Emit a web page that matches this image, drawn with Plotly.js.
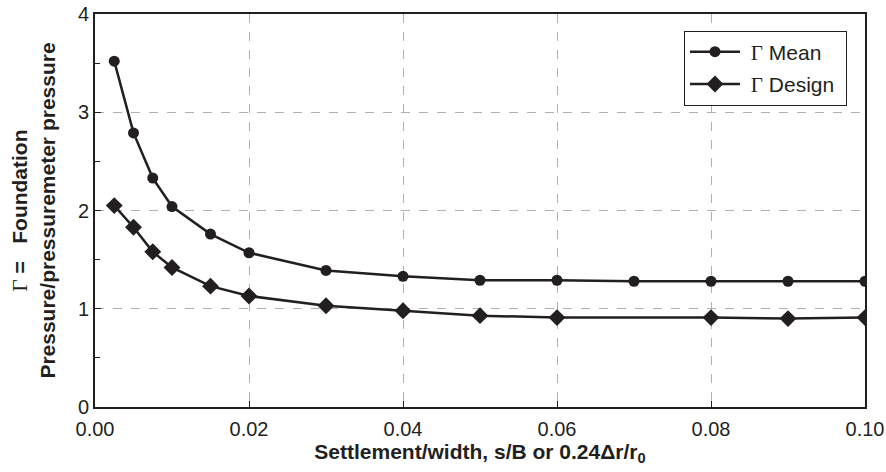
<!DOCTYPE html>
<html><head><meta charset="utf-8">
<script src="https://cdn.plot.ly/plotly-3.0.1.min.js"></script>
<style>body{margin:0;padding:0;background:#fff}#chart{width:886px;height:472px}</style>
</head><body><div id="chart"></div>
<script>
const meanX = [0.0025, 0.005, 0.0075, 0.01, 0.015, 0.02, 0.03, 0.04, 0.05, 0.06, 0.07, 0.08, 0.09, 0.10];
const meanY = [3.52, 2.79, 2.33, 2.04, 1.76, 1.57, 1.39, 1.33, 1.29, 1.29, 1.28, 1.28, 1.28, 1.28];
const designX = [0.0025, 0.005, 0.0075, 0.01, 0.015, 0.02, 0.03, 0.04, 0.05, 0.06, 0.08, 0.09, 0.10];
const designY = [2.05, 1.83, 1.58, 1.42, 1.23, 1.13, 1.03, 0.98, 0.93, 0.91, 0.91, 0.90, 0.91];
const serif = "font-family:\"Liberation Serif\",\"DejaVu Serif\",serif;font-weight:normal";
const seriesNames = ["&nbsp;<span style='" + serif + "'>Γ</span> Mean&nbsp;",
                     "&nbsp;<span style='" + serif + "'>Γ</span> Design&nbsp;"];
const xTicks = [0, 0.02, 0.04, 0.06, 0.08, 0.10];
const xTickText = ["0.00", "0.02", "0.04", "0.06", "0.08", "0.10"];
const yTicks = [0, 1, 2, 3, 4];
const yMinorTicks = [0.5, 1.5, 2.5, 3.5];
const xTitle = "<b>Settlement/width, s/B or 0.24Δr/r<sub>0</sub></b>";
const yTitle = "<b><span style='" + serif + "'>Γ</span> =&nbsp;&nbsp;&nbsp;Foundation<br>Pressure/pressuremeter pressure</b>";

const ink = '#231f20';
const traces = [
  {x: meanX, y: meanY, name: seriesNames[0], legendgroup: 'a', mode: 'lines+markers', type: 'scatter',
   line: {color: ink, width: 2.5}, marker: {symbol: 'circle', size: 11, color: ink}},
  {x: designX, y: designY, name: seriesNames[1], legendgroup: 'b', mode: 'lines+markers', type: 'scatter',
   line: {color: ink, width: 2.5}, marker: {symbol: 'diamond', size: 13, color: ink}}
];
const layout = {
  width: 886, height: 472,
  margin: {l: 95, r: 21, t: 14, b: 65},
  paper_bgcolor: '#fff', plot_bgcolor: '#fff',
  font: {family: 'Liberation Sans, Arial, sans-serif', color: ink, size: 20},
  showlegend: true,
  legend: {x: 0.9766, xanchor: 'right', y: 0.958, yanchor: 'top',
           bordercolor: ink, borderwidth: 1, bgcolor: '#fff',
           font: {size: 21, color: ink}, itemwidth: 50, tracegroupgap: 2, traceorder: 'grouped'},
  xaxis: {range: [0, 0.10], tickvals: xTicks, ticktext: xTickText, tickfont: {size: 20},
          ticklabelstandoff: 3,
          showgrid: true, gridcolor: '#b0b0b0', griddash: 'dash', gridwidth: 1,
          showline: true, linecolor: ink, linewidth: 2, mirror: true,
          ticks: 'inside', ticklen: 6, tickcolor: ink, zeroline: false,
          title: {text: xTitle, font: {size: 21}, standoff: 1}},
  yaxis: {range: [0, 4], tickvals: yTicks, tickfont: {size: 20},
          showgrid: true, gridcolor: '#b0b0b0', griddash: 'dash', gridwidth: 1,
          showline: true, linecolor: ink, linewidth: 2, mirror: true,
          ticks: 'inside', ticklen: 6, tickcolor: ink, zeroline: false,
          minor: {tickvals: yMinorTicks, ticks: 'inside', ticklen: 5, tickcolor: ink, showgrid: false},
          title: {text: yTitle, font: {size: 21}, standoff: 17}}
};
Plotly.newPlot('chart', traces, layout, {displayModeBar: false, staticPlot: true});
</script></body></html>
